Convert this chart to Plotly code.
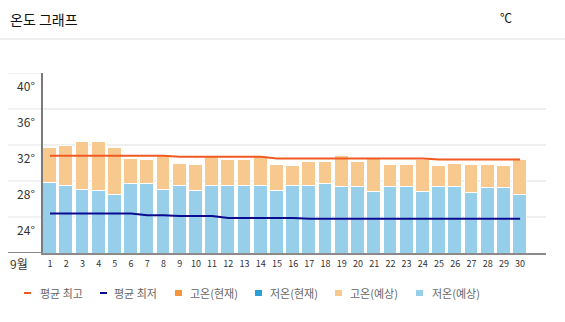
import plotly.graph_objects as go

# ---------------- data ----------------
days = list(range(1, 31))
day_labels = [str(d) for d in days]
month_label = "9월"

high_forecast = [31.7, 31.9, 32.3, 32.3, 31.7, 30.4, 30.3, 30.8, 29.9, 29.8,
                 30.7, 30.3, 30.3, 30.7, 29.8, 29.7, 30.1, 30.1, 30.8, 30.1,
                 30.4, 29.8, 29.8, 30.3, 29.7, 29.9, 29.8, 29.8, 29.7, 30.3]
low_forecast = [27.8, 27.5, 27.0, 26.9, 26.4, 27.7, 27.7, 27.0, 27.4, 26.9,
                27.5, 27.5, 27.4, 27.4, 26.9, 27.4, 27.5, 27.7, 27.3, 27.3,
                26.8, 27.3, 27.3, 26.8, 27.3, 27.3, 26.7, 27.2, 27.2, 26.4]
high_current = []
low_current = []
avg_high = [30.8, 30.8, 30.8, 30.8, 30.8, 30.8, 30.8, 30.8, 30.7, 30.7,
            30.7, 30.7, 30.7, 30.7, 30.5, 30.5, 30.5, 30.5, 30.5, 30.5,
            30.5, 30.5, 30.5, 30.5, 30.4, 30.4, 30.4, 30.4, 30.4, 30.4]
avg_low = [24.4, 24.4, 24.4, 24.4, 24.4, 24.4, 24.2, 24.2, 24.1, 24.1,
           24.1, 23.9, 23.9, 23.9, 23.9, 23.9, 23.8, 23.8, 23.8, 23.8,
           23.8, 23.8, 23.8, 23.8, 23.8, 23.8, 23.8, 23.8, 23.8, 23.8]
y_ticks = [24, 28, 32, 36, 40]
y_tick_labels = ["24°", "28°", "32°", "36°", "40°"]

legend_names = ["평균 최고", "평균 최저", "고온(현재)", "저온(현재)", "고온(예상)", "저온(예상)"]

# ---------------- style ----------------
C_AVG_HIGH = "#f05a22"
C_AVG_LOW = "#0b0b8f"
C_HIGH_CUR = "#f7943c"
C_LOW_CUR = "#2a9fd8"
C_HIGH_FC = "#f8c98f"
C_LOW_FC = "#97ceea"
FONT = "Noto Sans CJK KR, sans-serif"

W, H = 565, 322
ML, MR, MT, MB = 43, 19, 73, 69
PW, PH = W - ML - MR, H - MT - MB


def px(x):
    return (x - ML) / PW


def py(y):
    return (H - MB - y) / PH


fig = go.Figure()

bar_common = dict(width=0.85, marker_line=dict(color="white", width=1), hoverinfo="skip")
fig.add_trace(go.Bar(x=days, y=high_forecast, name=legend_names[4],
                     marker_color=C_HIGH_FC, **bar_common))
fig.add_trace(go.Bar(x=days, y=low_forecast, name=legend_names[5],
                     marker_color=C_LOW_FC, **bar_common))
fig.add_trace(go.Bar(x=high_current, y=high_current, name=legend_names[2],
                     marker_color=C_HIGH_CUR, **bar_common))
fig.add_trace(go.Bar(x=low_current, y=low_current, name=legend_names[3],
                     marker_color=C_LOW_CUR, **bar_common))
fig.add_trace(go.Scatter(x=days, y=avg_high, mode="lines", name=legend_names[0],
                         line=dict(color=C_AVG_HIGH, width=2)))
fig.add_trace(go.Scatter(x=days, y=avg_low, mode="lines", name=legend_names[1],
                         line=dict(color=C_AVG_LOW, width=2)))

x0 = 1 - 7 / 16.21
fig.update_layout(
    width=W, height=H,
    margin=dict(l=ML, r=MR, t=MT, b=MB, pad=0),
    paper_bgcolor="white", plot_bgcolor="white",
    barmode="overlay", bargap=0,
    showlegend=False,
    font=dict(family=FONT, color="#333"),
    xaxis=dict(range=[x0, x0 + PW / 16.21], tickmode="array", tickvals=days,
               ticktext=day_labels, tickfont=dict(size=9, color="#333"),
               showgrid=False, showline=True, linecolor="#8a8a8a", linewidth=2,
               ticks="", zeroline=False, fixedrange=True, ticklabelstandoff=1),
    yaxis=dict(range=[20, 40], tickmode="array", tickvals=y_ticks,
               ticktext=y_tick_labels, tickfont=dict(size=12, color="#333"),
               showgrid=True, gridcolor="#efefef", gridwidth=1.5,
               showline=True, linecolor="#7a7a7a", linewidth=1.5,
               ticks="", zeroline=False, fixedrange=True,
               ticklabelshift=14, ticklabelstandoff=4),
)

shapes = []
# gridline stubs extending left of the axis
for v in y_ticks:
    shapes.append(dict(type="line", xref="paper", yref="y", x0=px(8), x1=0, y0=v, y1=v,
                       line=dict(color="#efefef", width=1.5), layer="below"))
shapes.append(dict(type="line", xref="paper", yref="y", x0=px(8), x1=0, y0=20, y1=20,
                   line=dict(color="#8a8a8a", width=2)))
# header separator
shapes.append(dict(type="line", xref="paper", yref="paper", x0=px(0), x1=px(W),
                   y0=py(39), y1=py(39), line=dict(color="#dddddd", width=1)))

annotations = [
    dict(text="온도 그래프", xref="paper", yref="paper", x=px(8), y=py(19.5),
         xanchor="left", yanchor="middle", showarrow=False,
         font=dict(size=14, color="#111", family=FONT)),
    dict(text="℃", xref="paper", yref="paper", x=px(514), y=py(18),
         xanchor="right", yanchor="middle", showarrow=False,
         font=dict(size=12, color="#111", family=FONT)),
    dict(text=month_label, xref="paper", yref="paper", x=px(18.5), y=py(263),
         xanchor="center", yanchor="middle", showarrow=False,
         font=dict(size=12, color="#333", family=FONT)),
]

# manual legend
leg_y = 293
legend_items = [
    ("line", C_AVG_HIGH, 24, 38),
    ("line", C_AVG_LOW, 100, 112),
    ("square", C_HIGH_CUR, 175, 188),
    ("square", C_LOW_CUR, 255, 268),
    ("square", C_HIGH_FC, 335, 348),
    ("square", C_LOW_FC, 416, 430),
]
for name, (kind, col, xs, xt) in zip(legend_names, legend_items):
    if kind == "line":
        shapes.append(dict(type="line", xref="paper", yref="paper",
                           x0=px(xs), x1=px(xs + 7), y0=py(leg_y), y1=py(leg_y),
                           line=dict(color=col, width=2)))
    else:
        shapes.append(dict(type="rect", xref="paper", yref="paper",
                           x0=px(xs), x1=px(xs + 7), y0=py(leg_y - 3), y1=py(leg_y + 3),
                           fillcolor=col, line=dict(width=0)))
    annotations.append(dict(text=name, xref="paper", yref="paper", x=px(xt), y=py(leg_y),
                            xanchor="left", yanchor="middle", showarrow=False,
                            font=dict(size=11, color="#666", family=FONT)))

fig.update_layout(shapes=shapes, annotations=annotations)
fig.write_html("out.html")
